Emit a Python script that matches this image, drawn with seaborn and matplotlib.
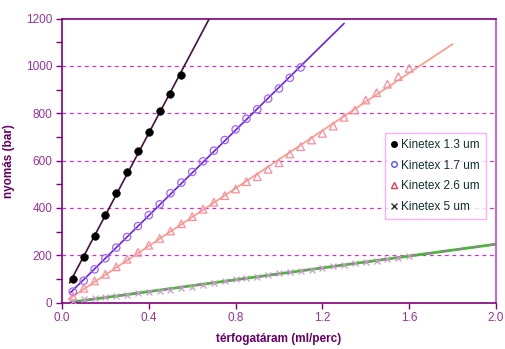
import numpy as np
import pandas as pd
import matplotlib
matplotlib.use("Agg")
import matplotlib.pyplot as plt
from matplotlib.lines import Line2D
import seaborn as sns

# ---- data ----
flow_13 = [0.05, 0.10, 0.15, 0.20, 0.25, 0.30, 0.35, 0.40, 0.45, 0.50, 0.55]
p_13 = [98, 191, 281, 371, 462, 551, 642, 721, 811, 880, 962]

flow_17 = [0.05, 0.10, 0.15, 0.20, 0.25, 0.30, 0.35, 0.40, 0.45, 0.50, 0.55,
           0.60, 0.65, 0.70, 0.75, 0.80, 0.85, 0.90, 0.95, 1.00, 1.05, 1.10]
p_17 = [46, 92, 140, 187, 232, 277, 323, 369, 415, 462, 507,
        552, 597, 642, 687, 732, 777, 817, 862, 905, 950, 994]

flow_26 = [0.05, 0.10, 0.15, 0.20, 0.25, 0.30, 0.35, 0.40, 0.45, 0.50, 0.55,
           0.60, 0.65, 0.70, 0.75, 0.80, 0.85, 0.90, 0.95, 1.00, 1.05, 1.10,
           1.15, 1.20, 1.25, 1.30, 1.35, 1.40, 1.45, 1.50, 1.55, 1.60]
p_26 = [27, 60, 91, 119, 151, 183, 212, 242, 271, 302, 333,
        363, 394, 424, 452, 480, 511, 532, 563, 591, 628, 659,
        687, 715, 746, 783, 814, 856, 887, 923, 955, 990]

flow_5 = [0.05, 0.10, 0.15, 0.20, 0.25, 0.30, 0.35, 0.40, 0.45, 0.50, 0.55,
          0.60, 0.65, 0.70, 0.75, 0.80, 0.85, 0.90, 0.95, 1.00, 1.05, 1.10,
          1.15, 1.20, 1.25, 1.30, 1.35, 1.40, 1.45, 1.50, 1.55, 1.60]
p_5 = [8, 13, 18, 22, 27, 32, 39, 43, 49, 53, 60,
       67, 75, 84, 92, 98, 105, 109, 116, 123, 129, 134,
       137, 147, 154, 159, 166, 173, 177, 184, 190, 197]

labels = ["Kinetex 1.3 um", "Kinetex 1.7 um", "Kinetex 2.6 um", "Kinetex 5 um"]
x_ticks = [0.0, 0.4, 0.8, 1.2, 1.6, 2.0]
y_ticks = [0, 200, 400, 600, 800, 1000, 1200]

# trendline extents (x range of each fitted line)
trend_range = {labels[0]: (0.035, 0.70), labels[1]: (0.04, 1.30),
               labels[2]: (0.03, 1.80), labels[3]: (0.04, 2.0)}

frames = []
for lab, fx, py in [(labels[0], flow_13, p_13), (labels[1], flow_17, p_17),
                    (labels[2], flow_26, p_26), (labels[3], flow_5, p_5)]:
    frames.append(pd.DataFrame({"flow": fx, "p": py, "col": lab}))
df = pd.concat(frames, ignore_index=True)

sns.set_theme(style="white")
plt.rcParams["font.family"] = ["Liberation Sans", "DejaVu Sans"]

fig = plt.figure(figsize=(5.06, 3.49), dpi=100)
ax = fig.add_axes([62 / 506, 1 - 302.5 / 349, 434 / 506, 283.8 / 349])

axis_col = "#800080"
tick_col = "#993399"
label_col = "#660066"

# gridlines
for yv in [200, 400, 600, 800, 1000]:
    ax.axhline(yv, color="#CC33CC", lw=0.9, ls=(0, (3, 3)), zorder=0)

# trendlines
line_cols = {labels[0]: "#4A0F3E", labels[1]: "#6A22E8", labels[2]: "#FF9A85"}
for lab in labels[:3]:
    sub = df[df["col"] == lab]
    k, b = np.polyfit(sub["flow"], sub["p"], 1)
    xs = np.linspace(*trend_range[lab], 50)
    sns.lineplot(x=xs, y=k * xs + b, ax=ax, color=line_cols[lab], lw=1.2,
                 zorder=2, legend=False)

sub5 = df[df["col"] == labels[3]]
k5, b5 = np.polyfit(sub5["flow"], sub5["p"], 1)
xs5 = np.linspace(*trend_range[labels[3]], 50)
ax.plot(xs5, k5 * xs5 + b5, color="#44BB33", lw=2.0, zorder=2)
ax.plot(xs5, k5 * xs5 + b5, color="#888888", lw=1.4, ls=(0, (4, 4)), zorder=2.1)

# markers
s13 = df[df["col"] == labels[0]]
sns.scatterplot(data=s13, x="flow", y="p", ax=ax, color="black", marker="o",
                s=30, edgecolor="black", zorder=3, legend=False)
s17 = df[df["col"] == labels[1]]
ax.scatter(s17["flow"], s17["p"], s=28, facecolors="none", edgecolors="#9966FF",
           linewidths=0.9, marker="o", zorder=3)
s26 = df[df["col"] == labels[2]]
ax.scatter(s26["flow"], s26["p"], s=30, facecolors="none", edgecolors="#FF8C9C",
           linewidths=0.9, marker="^", zorder=3)
ax.scatter(sub5["flow"], sub5["p"], s=18, color="#CC99CC", linewidths=0.9,
           marker="x", zorder=3)

ax.set_xlim(0, 2.0)
ax.set_ylim(0, 1200)
ax.set_xticks(x_ticks)
ax.set_xticklabels([f"{v:.1f}" for v in x_ticks])
ax.set_yticks(y_ticks)
ax.set_yticks(np.arange(100, 1200, 200), minor=True)
ax.tick_params(axis="both", which="major", direction="out", length=4,
               color=axis_col, width=1, labelsize=8.5, labelcolor=tick_col,
               pad=3, bottom=True, left=True)
ax.tick_params(axis="y", which="minor", direction="out", length=4,
               color=axis_col, width=1, left=True)
for sp in ax.spines.values():
    sp.set_visible(True)
    sp.set_color(axis_col)
    sp.set_linewidth(1.2)
ax.spines["right"].set_color("#CC44CC")

ax.set_xlabel("térfogatáram (ml/perc)", fontsize=8.5, fontweight="bold",
              color=label_col, labelpad=6)
ax.set_ylabel("nyomás (bar)", fontsize=8.5, fontweight="bold",
              color=label_col, labelpad=8)

handles = [
    Line2D([], [], ls="none", marker="o", color="black", markersize=4),
    Line2D([], [], ls="none", marker="o", markerfacecolor="none",
           markeredgecolor="#5555FF", markersize=4),
    Line2D([], [], ls="none", marker="^", markerfacecolor="none",
           markeredgecolor="#E0404F", markersize=4),
    Line2D([], [], ls="none", marker="x", color="#333333", markersize=4),
]
leg = ax.legend(handles, labels, loc="upper left",
                bbox_to_anchor=(0.744, 0.598), frameon=True, fancybox=False,
                fontsize=8.5, handlelength=0.6, handletextpad=0.3,
                labelspacing=0.75, borderpad=0.5, borderaxespad=0)
leg.get_frame().set_edgecolor("#FF99FF")
leg.get_frame().set_linewidth(1.0)
for t in leg.get_texts():
    t.set_color("#103030")

fig.savefig("out.png", dpi=100, facecolor="white")
